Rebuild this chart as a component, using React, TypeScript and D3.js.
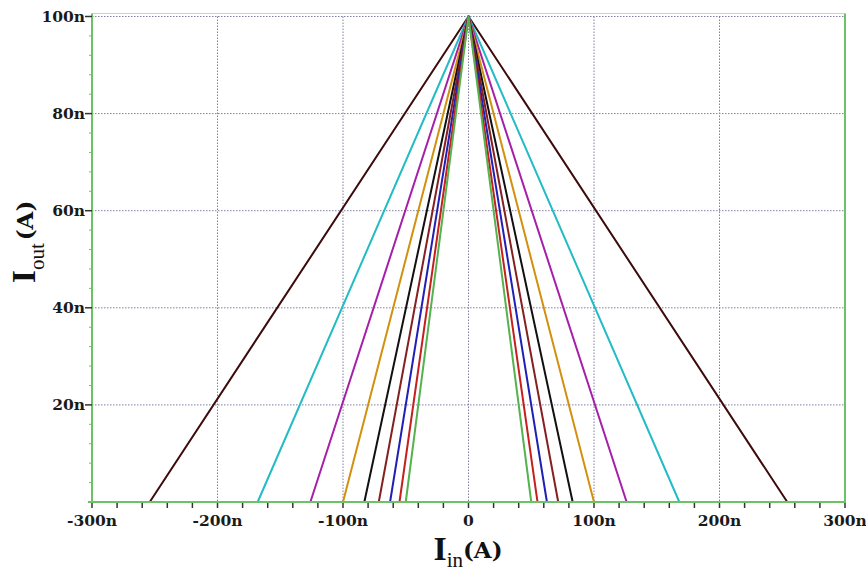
import * as d3 from 'd3'
import React from 'react'

// x-intercepts (nA) of each triangle, outermost first
const intercepts = [254, 168, 126, 100, 83, 71.5, 62.5, 55, 50]
const lineColors = ['#3d0b0b', '#22bcc4', '#a51fa8', '#d2900f', '#111111', '#862020', '#2020b4', '#c42020', '#55b24f']
const apex = 100

const xTicks = [-300, -200, -100, 0, 100, 200, 300]
const xTickLabels = ['-300n', '-200n', '-100n', '0', '100n', '200n', '300n']
const yTicks = [20, 40, 60, 80, 100]
const yTickLabels = ['20n', '40n', '60n', '80n', '100n']

const W = 866
const H = 574
const tickFont = '"DejaVu Serif", serif'

export default function App() {
    const ref = React.useRef<SVGSVGElement>(null)

    React.useEffect(() => {
        draw()
    })

    function draw() {
        const svg = d3.select(ref.current)
        svg.selectAll('*').remove()

        const x = d3.scaleLinear().domain([-300, 300]).range([92, 845])
        const y = d3.scaleLinear().domain([0, 100]).range([502, 16.5])

        // frame
        svg.append('line').attr('x1', 92).attr('x2', 845).attr('y1', 13.5).attr('y2', 13.5)
            .attr('stroke', '#b8e0b4').attr('stroke-width', 1)
        svg.append('line').attr('x1', 845).attr('x2', 845).attr('y1', 13.5).attr('y2', 502)
            .attr('stroke', '#6cc266').attr('stroke-width', 2)

        // grid
        const grid = svg.append('g').attr('stroke', '#7f7fa6').attr('stroke-width', 1)
            .attr('stroke-dasharray', '1.5,1.5')
        grid.selectAll('.vg').data(xTicks.filter(d => d > -300 && d < 300)).enter().append('line')
            .attr('x1', d => x(d)).attr('x2', d => x(d)).attr('y1', y(100)).attr('y2', y(0))
        grid.selectAll('.hg').data(yTicks).enter().append('line')
            .attr('x1', x(-300)).attr('x2', x(300)).attr('y1', d => y(d)).attr('y2', d => y(d))

        // series
        const line = d3.line<number[]>().x(d => x(d[0])).y(d => y(d[1]))
        intercepts.forEach((x0, i) => {
            const pts = [[-300, 0], [-x0, 0], [0, apex], [x0, 0], [300, 0]]
            svg.append('path').attr('d', line(pts)).attr('fill', 'none')
                .attr('stroke', lineColors[i]).attr('stroke-width', 2).attr('stroke-linejoin', 'round')
        })

        // y axis
        svg.append('line').attr('x1', 92).attr('x2', 92).attr('y1', 13.5).attr('y2', 503)
            .attr('stroke', '#6cc266').attr('stroke-width', 2)
        const yMinor = d3.range(0, 101, 4).filter(d => d % 20 !== 0)
        svg.selectAll('.ymin').data(yMinor).enter().append('line')
            .attr('x1', 89).attr('x2', 92).attr('y1', d => y(d)).attr('y2', d => y(d))
            .attr('stroke', '#6cc266').attr('stroke-width', 1)
        svg.selectAll('.ymaj').data(yTicks).enter().append('line')
            .attr('x1', 85).attr('x2', 92).attr('y1', d => y(d)).attr('y2', d => y(d))
            .attr('stroke', '#333').attr('stroke-width', 1.5)
        svg.selectAll('.ylab').data(yTicks).enter().append('text')
            .attr('x', 85).attr('y', d => y(d) + 5.5).attr('text-anchor', 'end')
            .attr('font-family', tickFont).attr('font-weight', 'bold').attr('font-size', 15.5)
            .attr('fill', '#1a1a1a').text((d, i) => yTickLabels[i])

        // x axis
        svg.append('line').attr('x1', 88).attr('x2', 846).attr('y1', 502).attr('y2', 502)
            .attr('stroke', '#6cc266').attr('stroke-width', 2)
        const xMinor = d3.range(-300, 301, 20)
        svg.selectAll('.xmin').data(xMinor).enter().append('line')
            .attr('x1', d => x(d)).attr('x2', d => x(d)).attr('y1', 503).attr('y2', 508)
            .attr('stroke', '#333').attr('stroke-width', 1.5)
        svg.selectAll('.xlab').data(xTicks).enter().append('text')
            .attr('x', d => x(d)).attr('y', 526).attr('text-anchor', 'middle')
            .attr('font-family', tickFont).attr('font-weight', 'bold').attr('font-size', 15.5)
            .attr('fill', '#1a1a1a').text((d, i) => xTickLabels[i])

        // x label
        const xl = svg.append('text').attr('x', 468).attr('y', 560).attr('text-anchor', 'middle').attr('fill', '#111')
        xl.append('tspan').attr('font-family', '"Liberation Serif", serif').attr('font-weight', 'bold')
            .attr('font-size', 34).text('I')
        xl.append('tspan').attr('font-family', '"Liberation Serif", serif').attr('font-size', 21)
            .attr('dy', 7).text('in')
        xl.append('tspan').attr('font-family', tickFont).attr('font-weight', 'bold')
            .attr('font-size', 23).attr('dy', -9).text('(A)')

        // y label
        const yl = svg.append('text').attr('transform', 'translate(35,242) rotate(-90)')
            .attr('text-anchor', 'middle').attr('fill', '#111')
        yl.append('tspan').attr('font-family', '"Liberation Serif", serif').attr('font-weight', 'bold')
            .attr('font-size', 34).text('I')
        yl.append('tspan').attr('font-family', '"Liberation Serif", serif').attr('font-size', 21)
            .attr('dy', 9).text('out')
        yl.append('tspan').attr('font-family', tickFont).attr('font-weight', 'bold')
            .attr('font-size', 23).attr('dy', -11).attr('dx', 3).text('(A)')
    }

    return (
        <svg ref={ref} width={W} height={H}
            style={{ position: 'absolute', left: 0, top: 0, background: '#fff' }} />
    )
}
